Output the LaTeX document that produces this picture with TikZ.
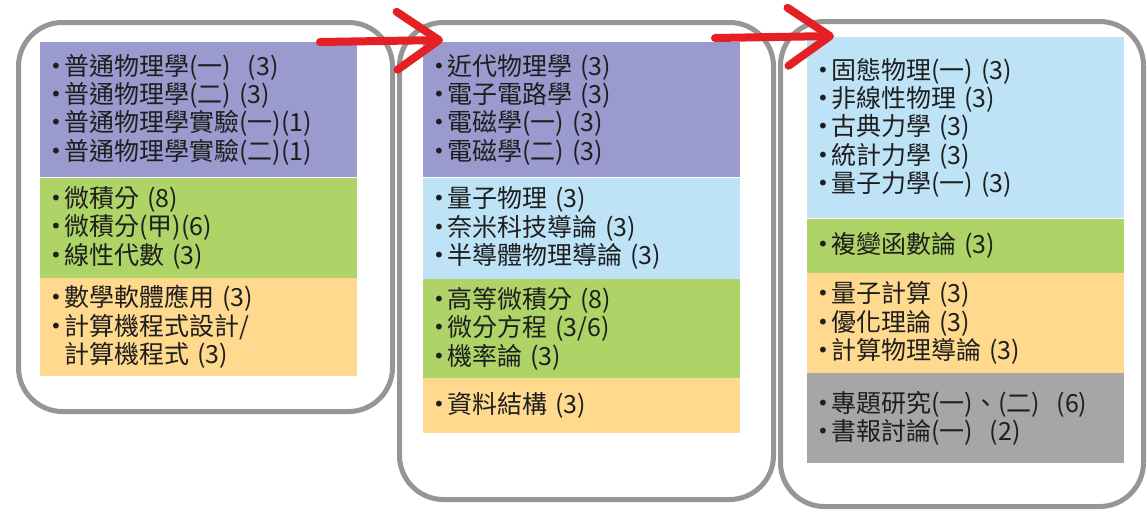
\documentclass[tikz,border=0pt]{standalone}
\usepackage{xcolor}
\usepackage{fontspec}
\setmainfont{Noto Sans CJK TC}
\newfontfamily\bulletfont{DejaVu Sans}
\usepackage{tikz}
\usetikzlibrary{arrows.meta}

\definecolor{framegray}{RGB}{150,150,150}
\definecolor{physpurple}{RGB}{154,154,206}
\definecolor{quantblue}{RGB}{190,227,247}
\definecolor{mathgreen}{RGB}{174,211,102}
\definecolor{progorange}{RGB}{255,217,141}
\definecolor{semgray}{RGB}{166,166,166}
\definecolor{arrowred}{RGB}{228,32,36}
\definecolor{textdark}{RGB}{30,30,30}

\newcommand{\itm}{\makebox[14pt][l]{\raisebox{2pt}{\bulletfont\fontsize{20}{20}\selectfont •}}}

\tikzset{
    frame/.style={draw=framegray, line width=5pt, rounded corners=44pt, anchor=north west, inner sep=0pt},
    block/.style={anchor=north west, minimum width=317pt, text width=297pt, inner xsep=10pt, inner ysep=0pt,
        align=left, text=textdark, font=\fontsize{25}{28.4}\selectfont},
    redarrow/.style={draw=arrowred, line width=8pt, line cap=round, -{Straight Barb[length=42pt, width=58pt, round]}}
}

\begin{document}
\begin{tikzpicture}[x=1pt, y=-1pt]
    \useasboundingbox (0,0) rectangle (1147,512);

    % frames
    \node[frame, minimum width=374pt, minimum height=389pt] (f1) at (16,20) {};
    \node[frame, minimum width=374pt, minimum height=477pt] (f2) at (397,20) {};
    \node[frame, minimum width=363pt, minimum height=485pt] (f3) at (778,19) {};

    % first column
    \node[block, fill=physpurple, minimum height=135pt] (a1) at (40,42)
        {\itm 普通物理學(一)\ \ (3)\\ \itm 普通物理學(二) (3)\\ \itm 普通物理學實驗(一)(1)\\ \itm 普通物理學實驗(二)(1)};
    \node[block, fill=mathgreen, minimum height=100pt] (a2) at (a1.south west)
        {\itm 微積分 (8)\\ \itm 微積分(甲)(6)\\ \itm 線性代數 (3)};
    \node[block, fill=progorange, minimum height=98pt] (a3) at (a2.south west)
        {\itm 數學軟體應用 (3)\\ \itm 計算機程式設計/\\ \hspace*{14pt}計算機程式 (3)};

    % second column
    \node[block, fill=physpurple, minimum height=135pt] (b1) at (423,42)
        {\itm 近代物理學 (3)\\ \itm 電子電路學 (3)\\ \itm 電磁學(一) (3)\\ \itm 電磁學(二) (3)};
    \node[block, fill=quantblue, minimum height=101pt] (b2) at (b1.south west)
        {\itm 量子物理 (3)\\ \itm 奈米科技導論 (3)\\ \itm 半導體物理導論 (3)};
    \node[block, fill=mathgreen, minimum height=99pt] (b3) at (b2.south west)
        {\itm 高等微積分 (8)\\ \itm 微分方程 (3/6)\\ \itm 機率論 (3)};
    \node[block, fill=progorange, minimum height=55pt] (b4) at (b3.south west)
        {\itm 資料結構 (3)};

    % third column
    \node[block, fill=quantblue, minimum height=181pt] (c1) at (807,37)
        {\itm 固態物理(一) (3)\\ \itm 非線性物理 (3)\\ \itm 古典力學 (3)\\ \itm 統計力學 (3)\\ \itm 量子力學(一) (3)};
    \node[block, fill=mathgreen, minimum height=54pt] (c2) at (c1.south west)
        {\itm 複變函數論 (3)};
    \node[block, fill=progorange, minimum height=100pt] (c3) at (c2.south west)
        {\itm 量子計算 (3)\\ \itm 優化理論 (3)\\ \itm 計算物理導論 (3)};
    \node[block, fill=semgray, minimum height=90pt] (c4) at (c3.south west)
        {\itm 專題研究(一)、(二)\ \ (6)\\ \itm 書報討論(一)\ \ (2)};

    % arrows
    \coordinate (s1) at (320,42);
    \coordinate (e1) at (443,40);
    \coordinate (s2) at (715,38);
    \coordinate (e2) at (834,36);
    \draw[redarrow] (s1) -- (e1);
    \draw[redarrow] (s2) -- (e2);

\end{tikzpicture}
\end{document}
